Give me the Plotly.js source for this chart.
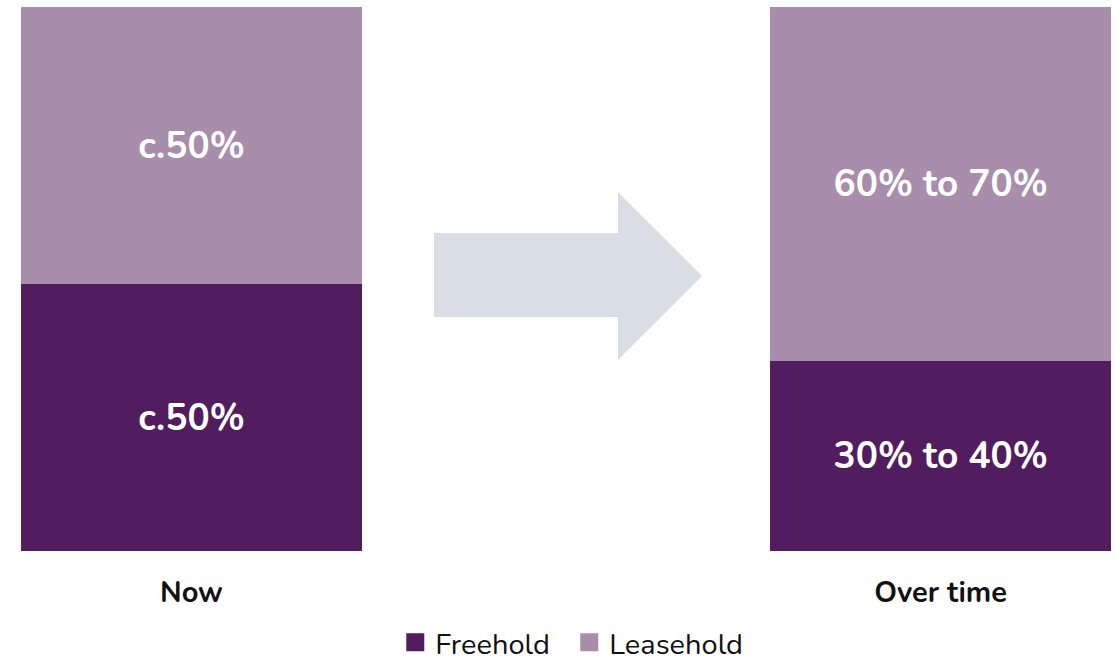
<!DOCTYPE html>
<html>
<head>
<meta charset="utf-8">
<script src="https://cdn.plot.ly/plotly-3.0.1.min.js"></script>
<style>html,body{margin:0;padding:0;background:#fff;}#chart{width:1117px;height:668px;}</style>
</head>
<body>
<div id="chart"></div>
<script>
const categories = ["Now", "Over time"];
const freeholdValues = [49, 35];
const leaseholdValues = [51, 65];
const freeholdLabels = ["c.50%", "30% to 40%"];
const leaseholdLabels = ["c.50%", "60% to 70%"];
const seriesNames = ["Freehold", "Leasehold"];
const seriesColors = ["#521d5f", "#a88eab"];

const FONT = "Nunito, 'Open Sans', 'Noto Sans', sans-serif";
const textFont = {family: FONT, size: 37, color: "#ffffff", weight: 700};

const traces = [
  {
    type: "bar", name: seriesNames[0], x: categories, y: freeholdValues,
    text: freeholdLabels, texttemplate: "<b>%{text}</b>", textposition: "inside",
    insidetextanchor: "middle", textfont: textFont, width: 0.455,
    marker: {color: seriesColors[0]}, hoverinfo: "skip", showlegend: false
  },
  {
    type: "bar", name: seriesNames[1], x: categories, y: leaseholdValues,
    text: leaseholdLabels, texttemplate: "<b>%{text}</b>", textposition: "inside",
    insidetextanchor: "middle", textfont: textFont, width: 0.455,
    marker: {color: seriesColors[1]}, hoverinfo: "skip", showlegend: false
  }
];
// legend entries with larger square swatches
seriesNames.forEach((n, i) => {
  traces.push({
    type: "scatter", mode: "markers", name: n, x: [null], y: [null],
    marker: {symbol: "square", size: 16, color: seriesColors[i], line: {color: seriesColors[i], width: 2}},
    showlegend: true, hoverinfo: "skip"
  });
});

const arrowPath = "M 0.3789 0.5846 L 0.5477 0.5846 L 0.5477 0.6599 L 0.6248 0.5055 L 0.5477 0.3511 L 0.5477 0.4301 L 0.3789 0.4301 Z";

const layout = {
  width: 1117, height: 668,
  margin: {l: 21, r: 6, t: 7, b: 117, autoexpand: false},
  barmode: "stack",
  paper_bgcolor: "#ffffff", plot_bgcolor: "#ffffff",
  font: {family: FONT, color: "#111111"},
  xaxis: {
    type: "category", range: [-0.2275, 1.2275],
    showgrid: false, zeroline: false, showline: false,
    ticks: "outside", ticklen: 0, ticklabelstandoff: 15,
    tickfont: {family: FONT, size: 29, color: "#111111", weight: 700}
  },
  yaxis: {range: [0, 100], visible: false, showgrid: false, zeroline: false},
  showlegend: true,
  legend: {
    orientation: "h", x: 0.503, xanchor: "center", y: -0.215, yanchor: "bottom",
    font: {family: FONT, size: 29, color: "#111111"}, itemwidth: 30, traceorder: "normal",
    entrywidth: 129
  },
  shapes: [{
    type: "path", xref: "paper", yref: "paper", path: arrowPath,
    fillcolor: "#d9dde6", line: {width: 0}, layer: "above"
  }]
};

Plotly.newPlot("chart", traces, layout, {displayModeBar: false, staticPlot: true});
</script>
</body>
</html>
